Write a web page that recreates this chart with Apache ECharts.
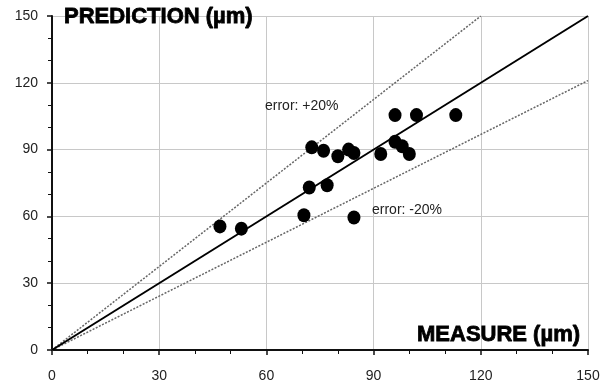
<!DOCTYPE html>
<html><head><meta charset="utf-8">
<script src="https://cdn.jsdelivr.net/npm/echarts@6/dist/echarts.min.js"></script>
<style>html,body{margin:0;padding:0;background:#fff}#c{width:609px;height:385px}</style>
</head><body><div id="c"></div>
<script>
var measure =    [47, 53, 70.5, 72, 77, 72.7, 76, 80, 83, 84.5, 84.5, 92, 96, 98, 100, 96, 102, 113];
var prediction = [55.5, 54.5, 60.5, 73, 74, 91, 89.5, 87, 90, 88.5, 59.5, 88, 93.5, 91.5, 88, 105.5, 105.5, 105.5];
var perfectLine = [[0, 0], [150, 150]];
var upperLine = [[0, 0], [120, 150]];
var lowerLine = [[0, 0], [150, 121]];
var tickValues = [0, 30, 60, 90, 120, 150];
var xTitle = 'MEASURE (\u00b5m)';
var yTitle = 'PREDICTION (\u00b5m)';
var upperLabel = 'error: +20%';
var lowerLabel = 'error: -20%';

var points = measure.map(function (m, i) { return [m, prediction[i]]; });
var font = 'Liberation Sans, Arial, sans-serif';
function axisCfg() {
  return {
    type: 'value', min: 0, max: 150, interval: 30,
    axisLine: { show: true, onZero: false, lineStyle: { color: '#111', width: 2 } },
    axisTick: { show: true, length: 5, lineStyle: { color: '#111', width: 1.5 } },
    minorTick: { show: true, splitNumber: 3, length: 4, lineStyle: { color: '#111', width: 1 } },
    splitLine: { show: true, lineStyle: { color: '#c8c8c8', width: 1 } },
    axisLabel: { color: '#222', fontSize: 14, fontFamily: font }
  };
}
var xa = axisCfg(); xa.axisLabel.margin = 19;
var ya = axisCfg(); ya.axisLabel.margin = 14;
var chart = echarts.init(document.getElementById('c'));
chart.setOption({
  backgroundColor: '#fff',
  animation: false,
  grid: { left: 52, right: 21, top: 16, bottom: 35 },
  xAxis: xa,
  yAxis: ya,
  series: [
    { type: 'line', data: perfectLine, symbol: 'none', lineStyle: { color: '#000', width: 2 }, z: 3 },
    { type: 'line', data: upperLine, symbol: 'none', lineStyle: { color: '#666', width: 1.5, type: [2, 1.5] }, z: 2 },
    { type: 'line', data: lowerLine, symbol: 'none', lineStyle: { color: '#666', width: 1.5, type: [2, 1.5] }, z: 2 },
    { type: 'scatter', data: points, symbol: 'circle', symbolSize: [13, 14], itemStyle: { color: '#000', opacity: 1 }, z: 5 }
  ],
  graphic: [
    { type: 'text', x: 64, y: 17, z: 10, style: { text: yTitle, fontSize: 22, fontWeight: 'bold', fontFamily: font, fill: '#000', stroke: '#000', lineWidth: 0.8, verticalAlign: 'middle' } },
    { type: 'text', x: 417, y: 335, z: 10, style: { text: xTitle, fontSize: 22, fontWeight: 'bold', fontFamily: font, fill: '#000', stroke: '#000', lineWidth: 0.8, verticalAlign: 'middle' } },
    { type: 'text', x: 265, y: 106, z: 10, style: { text: upperLabel, fontSize: 14, fontFamily: font, fill: '#222', verticalAlign: 'middle' } },
    { type: 'text', x: 372, y: 210, z: 10, style: { text: lowerLabel, fontSize: 14, fontFamily: font, fill: '#222', verticalAlign: 'middle' } }
  ]
});
</script></body></html>
